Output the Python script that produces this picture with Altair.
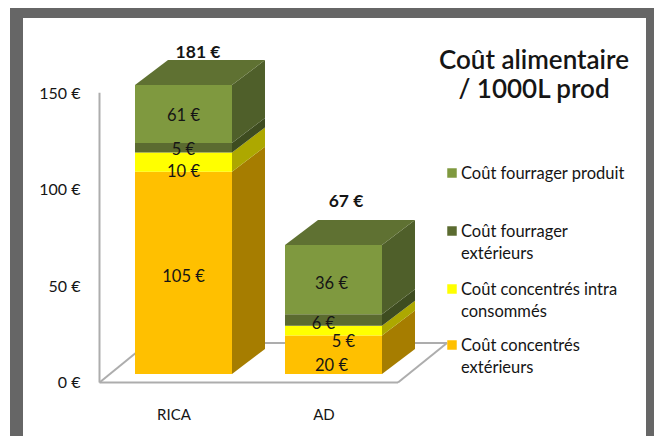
import altair as alt
import pandas as pd

categories = ["RICA", "AD"]
series = ["Coût concentrés extérieurs", "Coût concentrés intra consommés", "Coût fourrager extérieurs", "Coût fourrager produit"]
concentres_ext = [105, 20]
concentres_intra = [10, 5]
fourrager_ext = [5, 6]
fourrager_prod = [61, 36]
totals = [181, 67]
y_ticks = [0, 50, 100, 150]
axis_max = 150

front_colors = ["#FFC000", "#FFFF00", "#5B6B30", "#7F993F"]
side_colors = ["#A67D00", "#ADA800", "#3E4C20", "#4F5F2A"]
top_color = "#5F7132"

FONT = "Lato"
TXT = "#151515"

# page-pixel <-> scale-unit helpers (chart origin is at page 8,8)
W, H = 646, 428
PX_PER_V = 1.926
Y0 = 374.5  # chart y of value 0 on the axis plane
X0, STEP = 175.5, 150.0
x_dom = [(0 - X0) / STEP, (W - X0) / STEP]
y_dom = [(Y0 - H) / PX_PER_V, Y0 / PX_PER_V]
to_u = lambda px: (px - 8 - X0) / STEP
to_v = lambda py: (Y0 - (py - 8)) / PX_PER_V

half = 48.5 / STEP
dx = 33 / STEP
dy = 25 / PX_PER_V
base = 8.5 / PX_PER_V

all_series = [concentres_ext, concentres_intra, fourrager_ext, fourrager_prod]
label_off = [  # label offsets in px from the middle of each visible segment
    [(0, 2), (0, 8), (0, 0), (0, 0)],
    [(-2, 9), (10, 9), (-10, 2), (-2, 2)],
]

fronts, sides, tops, labels = [], [], [], []
for i, cat in enumerate(categories):
    cum = 0
    for s, name in enumerate(series):
        v = all_series[s][i]
        lo = min(cum, axis_max)
        hi = min(cum + v, axis_max)
        cum += v
        fronts.append(dict(x=i - half, x2=i + half, y=lo + base, y2=hi + base, s=name))
        sid = f"{i}-{s}"
        sides.append(dict(x=i + half, y=lo + base, y2=hi + base, s=name, id=sid))
        sides.append(dict(x=i + half + dx, y=lo + base + dy, y2=hi + base + dy, s=name, id=sid))
        ox, oy = label_off[i][s]
        labels.append(dict(x=i + ox / STEP, y=(lo + hi) / 2 + base - oy / PX_PER_V, t=f"{v} €"))
    t = min(cum, axis_max) + base
    tid = str(i)
    tops += [
        dict(x=i - half, y=t, y2=t, id=tid),
        dict(x=i - half + dx, y=t, y2=t + dy, id=tid),
        dict(x=i + half, y=t, y2=t + dy, id=tid),
        dict(x=i + half + dx, y=t + dy, y2=t + dy, id=tid),
    ]

X = alt.X("x:Q", scale=alt.Scale(domain=x_dom, nice=False, zero=False), axis=None)
Y = alt.Y("y:Q", stack=None, scale=alt.Scale(domain=y_dom, nice=False, zero=False),
          axis=alt.Axis(values=y_ticks, title=None, domain=False, ticks=False, grid=False,
                        offset=-72, labelPadding=0, labelFont=FONT, labelFontSize=16,
                        labelColor=TXT, labelExpr="datum.value + ' €'"))
color_front = alt.Color("s:N", scale=alt.Scale(domain=series, range=front_colors), legend=None)

layers = []

# walls and floor
grid_col = "#ADADAD"
wall_pts = [
    ("wall", to_u(99.5), 150.5), ("wall", to_u(99.5), 0),
    ("front", to_u(99.5), 0), ("front", to_u(398), 0),
    ("right", to_u(398), 0), ("right", to_u(447), to_v(343)),
    ("back", to_u(148), to_v(343)), ("back", to_u(447), to_v(343)),
    ("left", to_u(99.5), 0), ("left", to_u(148), to_v(343)),
]
wall_df = pd.DataFrame(wall_pts, columns=["id", "x", "y"])
layers.append(alt.Chart(wall_df).mark_line(color=grid_col, strokeWidth=2).encode(x=X, y=Y, detail="id:N"))

# side faces
side_df = pd.DataFrame(sides)
layers.append(
    alt.Chart(side_df).mark_area(orient="vertical").encode(
        x=X, y=Y, y2="y2:Q", detail="id:N",
        fill=alt.Fill("s:N", scale=alt.Scale(domain=series, range=side_colors), legend=None),
    )
)

# top faces
layers.append(
    alt.Chart(pd.DataFrame(tops)).mark_area(orient="vertical", color=top_color).encode(
        x=X, y=Y, y2="y2:Q", detail="id:N",
    )
)

# front faces
layers.append(
    alt.Chart(pd.DataFrame(fronts)).mark_rect().encode(
        x=X, x2="x2:Q", y=Y, y2="y2:Q",
        color=color_front,
    )
)

# segment labels
layers.append(
    alt.Chart(pd.DataFrame(labels)).mark_text(font=FONT, fontSize=16.5, color=TXT, dy=2).encode(x=X, y=Y, text="t:N")
)

# totals
tot_df = pd.DataFrame({
    "x": [to_u(198), to_u(346)],
    "y": [to_v(51), to_v(200)],
    "t": [f"{v} €" for v in totals],
})
layers.append(
    alt.Chart(tot_df).mark_text(font=FONT, fontSize=17.5, fontWeight="bold", color=TXT, dy=1.5).encode(x=X, y=Y, text="t:N")
)

# category labels
cat_df = pd.DataFrame({"x": [to_u(174), to_u(324)], "y": [to_v(414)] * 2, "t": categories})
layers.append(
    alt.Chart(cat_df).mark_text(font=FONT, fontSize=15, color=TXT, dy=1).encode(x=X, y=Y, text="t:N")
)

# title
title_lines = ["Coût alimentaire", "/ 1000L prod"]
title_df = pd.DataFrame({"x": [to_u(534), to_u(534)], "y": [to_v(60), to_v(89)], "t": title_lines})
layers.append(
    alt.Chart(title_df).mark_text(font=FONT, fontSize=26, fontWeight=600, color=TXT, dy=1).encode(x=X, y=Y, text="t:N")
)

# legend
legend_marks = list(reversed(series))
legend_mark_y = [173, 231, 289, 345]
legend_lines = [
    ["Coût fourrager produit"],
    ["Coût fourrager", "extérieurs"],
    ["Coût concentrés intra", "consommés"],
    ["Coût concentrés", "extérieurs"],
]
legend_sq = pd.DataFrame({"x": [to_u(452)] * 4, "y": [to_v(v) for v in legend_mark_y], "s": legend_marks})
layers.append(
    alt.Chart(legend_sq).mark_square(size=90, opacity=1, filled=True).encode(x=X, y=Y, color=color_front)
)
rows = []
for lines, my in zip(legend_lines, legend_mark_y):
    for k, line in enumerate(lines):
        rows.append(dict(x=to_u(461), y=to_v(my + 22 * k), t=line))
layers.append(
    alt.Chart(pd.DataFrame(rows)).mark_text(font=FONT, fontSize=16.5, align="left", color=TXT, dy=1).encode(x=X, y=Y, text="t:N")
)

# frame
frame_col = "#666666"
frame = [(2, 15, 0, H), (2, W, 0, 10), (W - 8, W, 0, H)]
frame_layers = [
    alt.Chart(pd.DataFrame({"a": [0]})).mark_rect(color=frame_col).encode(
        x=alt.value(a), x2=alt.value(b), y=alt.value(c), y2=alt.value(d)
    )
    for a, b, c, d in frame
]

chart = alt.layer(*layers, *frame_layers).properties(
    width=W, height=H, padding=0, autosize=alt.AutoSizeParams(type="none"), background="white"
).resolve_scale(fill="independent", color="independent").configure_view(stroke=None)

chart.save("out.html", embed_options={"renderer": "svg", "actions": False})
